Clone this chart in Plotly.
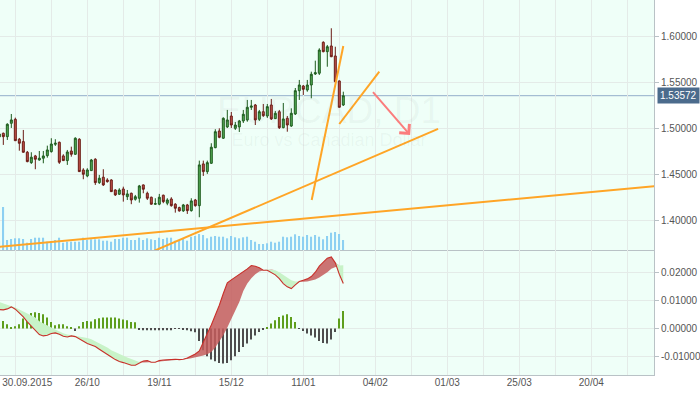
import plotly.graph_objects as go

# ---------------- data ----------------
BAR_INDEX = list(range(-4, 83))   # trading-day index, 0 = 30.09.2015

OPEN = [1.4908, 1.4948, 1.4911, 1.5057, 1.5100, 1.4883, 1.4857, 1.4741, 1.4628, 1.4701,
        1.4657, 1.4676, 1.4704, 1.4748, 1.4828, 1.4850, 1.4701, 1.4650, 1.4755, 1.4719,
        1.4883, 1.4548, 1.4483, 1.4541, 1.4665, 1.4410, 1.4469, 1.4439, 1.4439, 1.4330,
        1.4284, 1.4341, 1.4257, 1.4294, 1.4229, 1.4240, 1.4385, 1.4294, 1.4251, 1.4175,
        1.4175, 1.4273, 1.4186, 1.4232, 1.4175, 1.4138, 1.4102, 1.4167, 1.4105, 1.4221,
        1.4159, 1.4614, 1.4530, 1.4621, 1.4791, 1.4973, 1.4894, 1.5017, 1.5136, 1.5002,
        1.5017, 1.5082, 1.5093, 1.5231, 1.5256, 1.5100, 1.5183, 1.5136, 1.5256, 1.5107,
        1.5183, 1.5009, 1.5111, 1.5027, 1.5158, 1.5412, 1.5463, 1.5420, 1.5474, 1.5594,
        1.5602, 1.5939, 1.5837, 1.5899, 1.5790, 1.5518, 1.5256]
HIGH = [1.4957, 1.4955, 1.5057, 1.5158, 1.5118, 1.4897, 1.4984, 1.4755, 1.4741, 1.4712,
        1.4755, 1.4755, 1.4813, 1.4894, 1.4883, 1.4857, 1.4719, 1.4766, 1.4802, 1.4904,
        1.4894, 1.4567, 1.4567, 1.4668, 1.4676, 1.4494, 1.4556, 1.4458, 1.4447, 1.4338,
        1.4349, 1.4366, 1.4330, 1.4301, 1.4276, 1.4385, 1.4390, 1.4312, 1.4257, 1.4240,
        1.4287, 1.4279, 1.4240, 1.4251, 1.4186, 1.4148, 1.4178, 1.4178, 1.4240, 1.4232,
        1.4650, 1.4650, 1.4650, 1.4839, 1.4992, 1.5002, 1.5122, 1.5202, 1.5180, 1.5071,
        1.5093, 1.5202, 1.5311, 1.5311, 1.5267, 1.5202, 1.5267, 1.5267, 1.5322, 1.5191,
        1.5202, 1.5278, 1.5136, 1.5220, 1.5441, 1.5529, 1.5474, 1.5529, 1.5619, 1.5739,
        1.5874, 1.5950, 1.5910, 1.6092, 1.5891, 1.5523, 1.5401]
LOW = [1.4886, 1.4821, 1.4875, 1.5006, 1.4864, 1.4758, 1.4737, 1.4632, 1.4614, 1.4556,
       1.4650, 1.4621, 1.4682, 1.4737, 1.4810, 1.4614, 1.4646, 1.4603, 1.4693, 1.4712,
       1.4526, 1.4447, 1.4469, 1.4537, 1.4385, 1.4396, 1.4374, 1.4410, 1.4309, 1.4265,
       1.4276, 1.4203, 1.4221, 1.4175, 1.4214, 1.4192, 1.4294, 1.4221, 1.4170, 1.4167,
       1.4164, 1.4186, 1.4164, 1.4148, 1.4083, 1.4094, 1.4091, 1.4069, 1.4094, 1.4148,
       1.4033, 1.4483, 1.4505, 1.4614, 1.4785, 1.4894, 1.4886, 1.5006, 1.5006, 1.4984,
       1.4962, 1.5060, 1.5074, 1.5202, 1.5038, 1.5082, 1.5126, 1.5115, 1.5093, 1.5104,
       1.4995, 1.5002, 1.4965, 1.5017, 1.5147, 1.5311, 1.5365, 1.5401, 1.5329, 1.5583,
       1.5583, 1.5830, 1.5673, 1.5778, 1.5504, 1.5227, 1.5245]
CLOSE = [1.4940, 1.4911, 1.5046, 1.5093, 1.4867, 1.4839, 1.4741, 1.4639, 1.4687, 1.4665,
         1.4676, 1.4701, 1.4766, 1.4831, 1.4839, 1.4632, 1.4650, 1.4744, 1.4719, 1.4894,
         1.4530, 1.4501, 1.4548, 1.4657, 1.4410, 1.4458, 1.4385, 1.4421, 1.4312, 1.4276,
         1.4330, 1.4276, 1.4287, 1.4221, 1.4257, 1.4374, 1.4338, 1.4240, 1.4175, 1.4181,
         1.4251, 1.4203, 1.4221, 1.4159, 1.4131, 1.4102, 1.4167, 1.4105, 1.4211, 1.4159,
         1.4603, 1.4530, 1.4628, 1.4796, 1.4965, 1.4904, 1.5111, 1.5093, 1.5038, 1.5038,
         1.5082, 1.5155, 1.5231, 1.5245, 1.5093, 1.5183, 1.5140, 1.5238, 1.5104, 1.5166,
         1.5009, 1.5104, 1.5038, 1.5166, 1.5412, 1.5474, 1.5427, 1.5474, 1.5591, 1.5608,
         1.5855, 1.5837, 1.5891, 1.5782, 1.5510, 1.5231, 1.53572]

VOLUME = [9, 43, 10, 11, 11.7, 11.7, 11, 7.3, 11, 12.3,
          12.3, 12.3, 8.3, 9, 10, 12.3, 7.3, 8.3, 8.3, 8.3,
          8.3, 12.3, 10, 10.7, 10.7, 10.7, 9.3, 9.3, 8.3, 11,
          11, 12.3, 12.3, 10, 10, 12.3, 10, 11.7, 10.7, 10,
          12.3, 11, 12.3, 12.3, 9.3, 10, 11.7, 9.3, 13.3, 14,
          16, 15, 11.7, 13.3, 14, 13.3, 13.3, 11.7, 14, 12.7,
          11.7, 12.7, 13.3, 10, 8.3, 6, 6, 6.7, 8.3, 7.3,
          8.3, 13.3, 12.7, 13.3, 15.7, 14, 13.3, 15, 13.3, 15,
          13.3, 10.7, 14, 17.3, 18, 16, 10]

# MACD values in thousandths
MACD_MAIN_MILLI = [6.76, 6.64, 7.00, 7.71, 6.88, 5.58, 4.15, 2.37, 0.83, -0.71,
                   -2.14, -2.61, -2.37, -1.78, -1.54, -2.02, -2.73, -2.97, -2.61, -2.85,
                   -3.68, -4.39, -5.34, -5.81, -6.41, -7.35, -8.19, -9.02, -10.08, -11.03,
                   -11.74, -12.10, -12.57, -13.05, -13.05, -12.34, -11.51, -11.39, -11.98, -11.98,
                   -11.39, -11.15, -11.03, -10.91, -10.91, -11.03, -10.91, -10.44, -9.85, -9.02,
                   -7.95, -5.10, -1.78, 1.30, 4.74, 8.30, 12.46, 16.25, 17.32, 18.27,
                   19.22, 20.17, 21.23, 22.42, 22.18, 21.59, 20.76, 20.76, 20.05, 19.10,
                   17.79, 16.01, 14.83, 14.23, 15.54, 16.73, 17.20, 17.67, 18.51, 20.05,
                   22.18, 23.72, 25.03, 25.50, 23.37, 19.34, 16.01]
MACD_SIGNAL_MILLI = [9.49, 8.90, 8.42, 7.95, 7.47, 6.76, 6.05, 5.34, 4.63, 3.91,
                     2.61, 1.78, 1.07, 0.36, -0.36, -1.07, -1.66, -2.14, -2.37, -2.61,
                     -2.73, -2.97, -3.32, -3.80, -4.51, -5.22, -5.93, -6.76, -7.71, -8.42,
                     -9.13, -9.85, -10.32, -10.79, -11.39, -11.86, -12.10, -12.10, -11.98, -11.86,
                     -11.74, -11.63, -11.51, -11.39, -11.27, -11.15, -11.03, -10.79, -10.56, -10.32,
                     -9.96, -9.61, -9.13, -8.30, -6.76, -4.74, -2.37, 0.36, 3.56, 6.52,
                     9.49, 13.40, 16.01, 17.91, 19.34, 20.28, 20.76, 21.00, 21.00, 20.76,
                     20.05, 19.10, 18.15, 17.20, 16.73, 16.61, 16.61, 16.73, 16.96, 17.44,
                     18.15, 18.98, 20.05, 21.23, 21.95, 22.42, 22.54]
MACD_HIST_MILLI = [2.37, 2.73, 1.54, 0.36, 0.83, 1.54, 3.56, 5.10, 5.58, 5.81,
                   5.58, 5.10, 3.91, 2.37, 1.19, 1.54, 1.54, 0.83, 0.59, -0.83,
                   0.83, 2.37, 2.73, 2.49, 3.32, 3.68, 3.91, 3.91, 3.91, 3.91,
                   3.56, 3.20, 2.97, 2.37, 2.25, -0.20, -0.59, -0.59, -0.59, -0.59,
                   -0.59, -0.59, -0.59, -0.59, -0.12, -0.12, -0.36, -0.59, -0.95, -1.30,
                   -4.39, -7.71, -9.85, -11.03, -11.63, -12.22, -12.46, -12.22, -11.27, -9.85,
                   -8.30, -6.52, -5.34, -3.91, -2.49, -1.19, -0.36, 0.36, 1.78, 2.97,
                   4.15, 4.63, 5.10, 4.15, 2.37, -0.12, -0.83, -1.78, -2.49, -3.20,
                   -4.39, -5.10, -5.34, -3.91, -1.19, 3.56, 6.29]

LAST_PRICE = 1.53572

TICK_POS = [3, 18, 36, 54, 72, 90, 108, 126, 144]
TICK_TEXT = ["30.09.2015", "26/10", "19/11", "15/12", "11/01", "04/02", "01/03", "25/03", "20/04"]
PRICE_TICKS = [1.40, 1.45, 1.50, 1.55, 1.60]
MACD_TICKS = [-0.01, 0.0, 0.01, 0.02]
MACD_TICK_TEXT = ["-0.01000", "0.00000", "0.01000", "0.02000"]

WATERMARK_TITLE = "EURCAD, D1"
WATERMARK_SUBTITLE = "Euro vs Canadian Dollar"

# hand-drawn analysis objects (index, price)
TREND_LINES = [
    ([-4, 160], [1.3712, 1.4372]),
    ([33, 105.7], [1.3635, 1.4995]),
    ([74.1, 82.0], [1.4221, 1.5899]),
    ([81.0, 91.0], [1.5049, 1.5619]),
]
ARROW_FROM = (89.1, 1.5412)
ARROW_TO = (98.7, 1.4929)

# ---------------- styling ----------------
BG = "#effff8"
GRID = "#e4ebe8"
AXIS = "#b9c2c6"
FONT = "Liberation Sans, Arial, sans-serif"
X_RANGE = [-3.83, 159.68]

macd_main = [v * 1e-3 for v in MACD_MAIN_MILLI]
macd_sig = [v * 1e-3 for v in MACD_SIGNAL_MILLI]
macd_hist = [v * 1e-3 for v in MACD_HIST_MILLI]
upper = [max(a, b) for a, b in zip(macd_main, macd_sig)]

fig = go.Figure()

# volume (base axis of the top panel)
fig.add_trace(go.Bar(x=BAR_INDEX, y=VOLUME, xaxis="x", yaxis="y", width=0.38,
                     marker=dict(color="#8dd0f2", line=dict(width=0)), hoverinfo="skip"))

# candles
fig.add_trace(go.Candlestick(
    x=BAR_INDEX, open=OPEN, high=HIGH, low=LOW, close=CLOSE, xaxis="x", yaxis="y3",
    increasing=dict(fillcolor="#55ad55", line=dict(color="#1d5a1d", width=1)),
    decreasing=dict(fillcolor="#c4544c", line=dict(color="#6a1b15", width=1)),
    whiskerwidth=0, hoverinfo="skip"))

for xs, ys in TREND_LINES:
    fig.add_trace(go.Scatter(x=xs, y=ys, mode="lines", xaxis="x", yaxis="y3",
                             line=dict(color="#ffa526", width=2), hoverinfo="skip"))

# MACD fills
fig.add_trace(go.Scatter(x=BAR_INDEX, y=macd_sig, mode="lines", xaxis="x2", yaxis="y2",
                         line=dict(width=0, color="rgba(0,0,0,0)"), hoverinfo="skip"))
fig.add_trace(go.Scatter(x=BAR_INDEX, y=upper, mode="lines", xaxis="x2", yaxis="y2",
                         fill="tonexty", fillcolor="rgba(196,92,92,0.85)",
                         line=dict(width=0, color="rgba(0,0,0,0)"), hoverinfo="skip"))
fig.add_trace(go.Scatter(x=BAR_INDEX, y=macd_main, mode="lines", xaxis="x2", yaxis="y2",
                         line=dict(width=0, color="rgba(0,0,0,0)"), hoverinfo="skip"))
fig.add_trace(go.Scatter(x=BAR_INDEX, y=upper, mode="lines", xaxis="x2", yaxis="y2",
                         fill="tonexty", fillcolor="#c8f3c8",
                         line=dict(width=0, color="rgba(0,0,0,0)"), hoverinfo="skip"))
fig.add_trace(go.Scatter(x=BAR_INDEX, y=macd_main, mode="lines", xaxis="x2", yaxis="y2",
                         line=dict(width=1.1, color="#c8302a"), hoverinfo="skip"))
fig.add_trace(go.Bar(x=BAR_INDEX, y=macd_hist, xaxis="x2", yaxis="y2", width=0.3,
                     marker=dict(color=["#5e9e1c" if v >= 0 else "#4d4d4d" for v in macd_hist],
                                 line=dict(width=0)), hoverinfo="skip"))
# carrier for the label axis
fig.add_trace(go.Scatter(x=[TICK_POS[0]], y=[0], mode="markers", xaxis="x3", yaxis="y2",
                         marker=dict(opacity=0), hoverinfo="skip"))

fig.update_layout(
    width=700, height=394, margin=dict(l=0, r=46, t=0, b=19),
    paper_bgcolor="white", plot_bgcolor=BG, showlegend=False,
    font=dict(family=FONT, size=10, color="#555555"),
    xaxis=dict(domain=[0, 1], anchor="y", range=X_RANGE, showgrid=True, gridcolor=GRID,
               tickmode="linear", tick0=0, dtick=9, showticklabels=False, ticks="",
               showline=True, linecolor=AXIS, zeroline=False,
               rangeslider=dict(visible=False)),
    yaxis=dict(domain=[1 / 3, 1], anchor="x", range=[0, 250], visible=False),
    yaxis3=dict(overlaying="y", anchor="x", side="right", range=[1.3676, 1.6400],
                tickvals=PRICE_TICKS, tickformat=".5f", showgrid=True, gridcolor=GRID,
                ticks="outside", ticklen=4, tickcolor=AXIS, showline=True, linecolor=AXIS,
                zeroline=False),
    xaxis2=dict(domain=[0, 1], anchor="y2", range=X_RANGE, showgrid=True, gridcolor=GRID,
                tickmode="linear", tick0=0, dtick=9, showticklabels=False, ticks="",
                showline=True, linecolor=AXIS, zeroline=False),
    yaxis2=dict(domain=[0, 1 / 3], anchor="x2", side="right", range=[-0.01651, 0.02794],
                tickvals=MACD_TICKS, ticktext=MACD_TICK_TEXT, showgrid=True, gridcolor=GRID,
                ticks="outside", ticklen=4, tickcolor=AXIS, showline=True, linecolor=AXIS,
                zeroline=False),
    xaxis3=dict(overlaying="x2", anchor="y2", side="bottom", range=X_RANGE,
                tickvals=TICK_POS, ticktext=TICK_TEXT, showgrid=False, ticks="",
                showline=False, zeroline=False),
)

fig.add_shape(type="line", xref="paper", x0=0, x1=1, yref="y3", y0=LAST_PRICE, y1=LAST_PRICE,
              line=dict(color="#93aecb", width=1), layer="below")

fig.add_annotation(x=1, xref="paper", xanchor="left", xshift=3, y=LAST_PRICE, yref="y3",
                   text=f"{LAST_PRICE:.5f}", showarrow=False, bgcolor="#4b6b8c",
                   font=dict(color="white", size=10, family=FONT), borderpad=2)

# watermark (one text block: big title line + smaller subtitle line)
fig.add_annotation(x=0.503, y=0.765, xref="paper", yref="paper",
                   text=f"<span style='font-size:37px'>{WATERMARK_TITLE}</span><br>{WATERMARK_SUBTITLE}",
                   showarrow=False, align="center",
                   font=dict(size=18, color="rgba(120,130,125,0.07)", family=FONT))

# arrow
fig.add_annotation(x=ARROW_TO[0], y=ARROW_TO[1], ax=ARROW_FROM[0], ay=ARROW_FROM[1],
                   xref="x", yref="y3", axref="x", ayref="y3", text="", showarrow=True,
                   arrowhead=4, arrowsize=1.3, arrowwidth=2, arrowcolor="#fb7d7d")

fig.write_html("out.html")
